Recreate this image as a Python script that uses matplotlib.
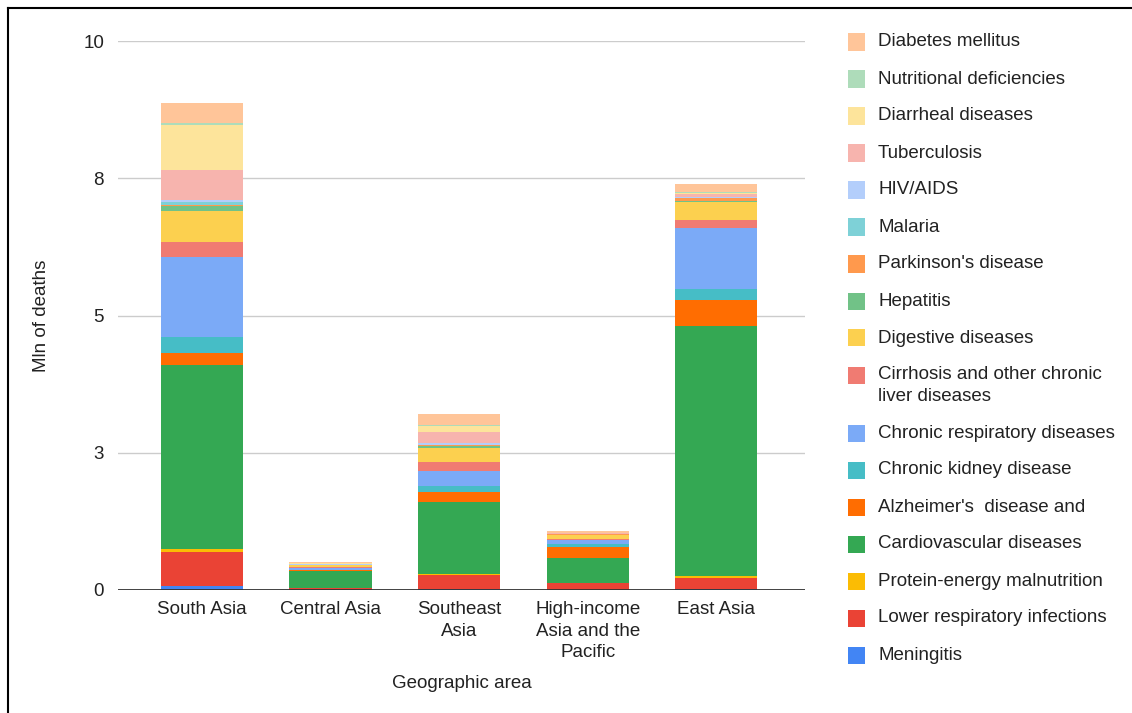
import matplotlib
matplotlib.use("Agg")
import matplotlib.pyplot as plt
import numpy as np
from matplotlib.lines import Line2D
from matplotlib.patches import Rectangle

plt.rcParams['font.family'] = ['Liberation Sans', 'DejaVu Sans']

# regions (x categories)
regions = ["South Asia", "Central Asia", "Southeast\nAsia",
           "High-income\nAsia and the\nPacific", "East Asia"]

# causes, bottom of the stack first
causes = ["Meningitis", "Lower respiratory infections", "Protein-energy malnutrition",
          "Cardiovascular diseases", "Alzheimer's  disease and", "Chronic kidney disease",
          "Chronic respiratory diseases", "Cirrhosis and other chronic\nliver diseases",
          "Digestive diseases", "Hepatitis", "Parkinson's disease", "Malaria",
          "HIV/AIDS", "Tuberculosis", "Diarrheal diseases", "Nutritional deficiencies",
          "Diabetes mellitus"]

colors = ["#4285f4", "#ea4335", "#fbbc04", "#34a853", "#ff6d01", "#46bdc6",
          "#7baaf7", "#f07b72", "#fcd04f", "#71c287", "#ff994d", "#7ed1d7",
          "#b3cefb", "#f7b4ae", "#fde49b", "#aedcba", "#ffc599"]

# million deaths, one row per cause, columns follow regions
meningitis   = [0.08, 0.005, 0.02, 0.005, 0.01]
lower_resp   = [0.62, 0.03, 0.25, 0.12, 0.21]
protein_mal  = [0.04, 0.003, 0.02, 0.003, 0.03]
cardio       = [3.36, 0.30, 1.32, 0.45, 4.56]
alzheimer    = [0.21, 0.02, 0.17, 0.21, 0.48]
kidney       = [0.30, 0.015, 0.11, 0.05, 0.20]
chronic_resp = [1.46, 0.02, 0.28, 0.07, 1.10]
cirrhosis    = [0.27, 0.02, 0.17, 0.03, 0.15]
digestive    = [0.57, 0.04, 0.25, 0.06, 0.33]
hepatitis    = [0.08, 0.005, 0.04, 0.01, 0.02]
parkinson    = [0.03, 0.005, 0.01, 0.02, 0.05]
malaria      = [0.04, 0.0, 0.01, 0.0, 0.0]
hiv          = [0.04, 0.005, 0.03, 0.001, 0.01]
tuberculosis = [0.55, 0.01, 0.20, 0.005, 0.06]
diarrheal    = [0.82, 0.01, 0.10, 0.01, 0.03]
nutritional  = [0.04, 0.002, 0.02, 0.002, 0.01]
diabetes     = [0.36, 0.02, 0.20, 0.03, 0.15]

values = [meningitis, lower_resp, protein_mal, cardio, alzheimer, kidney,
          chronic_resp, cirrhosis, digestive, hepatitis, parkinson, malaria,
          hiv, tuberculosis, diarrheal, nutritional, diabetes]

yticks = [0, 2.5, 5, 7.5, 10]
ytick_labels = ["0", "3", "5", "8", "10"]

FS = 13.5

fig = plt.figure(figsize=(11.32, 7.13), dpi=100)
ax = fig.add_axes([118 / 1132, 1 - 590 / 713, 687 / 1132, 549 / 713])

x = np.arange(len(regions))
bottom = np.zeros(len(regions))
for vals, col in zip(values, colors):
    ax.bar(x, vals, 0.64, bottom=bottom, color=col, linewidth=0, zorder=3)
    bottom += np.array(vals)

ax.set_xlim(-0.654, 4.69)
ax.set_ylim(0, 10)
ax.set_yticks(yticks)
ax.set_yticklabels(ytick_labels)
ax.set_xticks(x)
ax.set_xticklabels(regions, linespacing=1.35)
for y in yticks[1:]:
    ax.axhline(y, color="#cccccc", lw=1, zorder=1)
ax.axhline(0, color="#333333", lw=1.3, zorder=4)
for s in ax.spines.values():
    s.set_visible(False)
ax.tick_params(length=0, labelsize=FS, colors="#222222")
ax.tick_params(axis="y", pad=10)
ax.tick_params(axis="x", pad=8)

ax.set_ylabel("Mln of deaths", fontsize=FS, color="#222222", labelpad=24)
ax.set_xlabel("Geographic area", fontsize=FS, color="#222222", labelpad=10)

# legend, top entry is the last stacked cause
ly = 42
for name, col in zip(causes[::-1], colors[::-1]):
    two = "\n" in name
    fig.add_artist(Rectangle((848 / 1132, 1 - (ly + 8.5) / 713), 17 / 1132, 17 / 713,
                             transform=fig.transFigure, facecolor=col, edgecolor="none"))
    fig.text(878 / 1132, 1 - (ly + (10.5 if two else 0)) / 713, name,
             fontsize=FS, color="#222222", va="center", linespacing=1.35)
    ly += 37 + (21 if two else 0)

# thin frame on the top and left edges
fig.add_artist(Line2D([7.5 / 1132, 1], [1 - 7.5 / 713, 1 - 7.5 / 713], color="black", lw=1.5))
fig.add_artist(Line2D([7.5 / 1132, 7.5 / 1132], [0, 1 - 7.5 / 713], color="black", lw=1.5))

fig.savefig("out.png", dpi=100)
